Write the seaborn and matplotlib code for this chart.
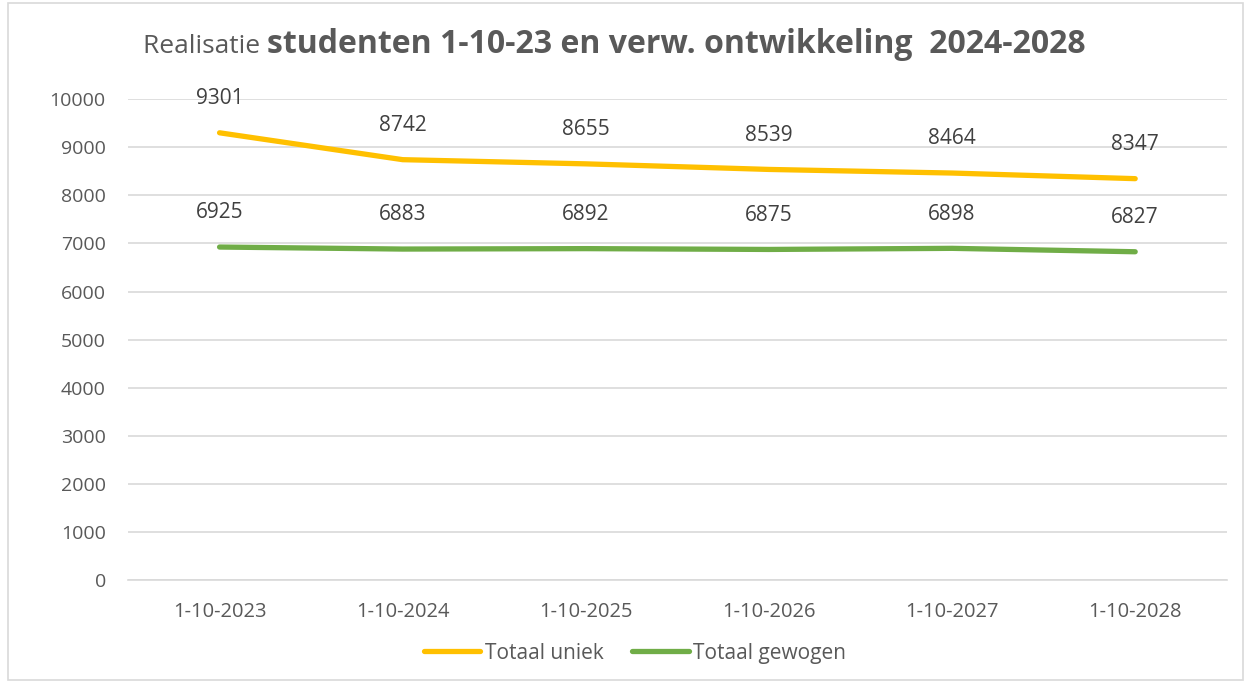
import matplotlib
matplotlib.use("Agg")
import matplotlib.pyplot as plt
import seaborn as sns
import pandas as pd
import numpy as np
from matplotlib.patches import Rectangle
from matplotlib.lines import Line2D

categories = ["1-10-2023", "1-10-2024", "1-10-2025", "1-10-2026", "1-10-2027", "1-10-2028"]
totaal_uniek = [9301, 8742, 8655, 8539, 8464, 8347]
totaal_gewogen = [6925, 6883, 6892, 6875, 6898, 6827]
series_names = ["Totaal uniek", "Totaal gewogen"]
colors = ["#FFC000", "#70AD47"]
yticks = [0, 1000, 2000, 3000, 4000, 5000, 6000, 7000, 8000, 9000, 10000]

sns.set_theme(style="white")
plt.rcParams['font.family'] = ['Open Sans', 'DejaVu Sans']
txt = "#595959"

df = pd.DataFrame({
    "x": list(range(len(categories))) * 2,
    "value": totaal_uniek + totaal_gewogen,
    "series": [series_names[0]] * len(categories) + [series_names[1]] * len(categories),
})

fig = plt.figure(figsize=(12.5, 6.84), dpi=100)
fig.patches.append(Rectangle((0.006, 0.006), 0.988, 0.99, transform=fig.transFigure,
                             fill=False, edgecolor="#d9d9d9", linewidth=1.2))
ax = fig.add_axes([0.1024, 0.152, 0.879, 0.703])

sns.lineplot(data=df, x="x", y="value", hue="series", palette=colors, linewidth=3.8,
             ax=ax, legend=False, solid_capstyle="round")

for vals in (totaal_uniek, totaal_gewogen):
    for i, v in enumerate(vals):
        ax.annotate(str(v), (i, v), xytext=(0, 17), textcoords="offset points",
                    ha="center", va="bottom", fontsize=15, color="#404040")

ax.set_xlim(-0.5, len(categories) - 0.5)
ax.set_ylim(0, 10000)
ax.set_yticks(yticks)
ax.set_yticklabels([str(t) for t in yticks], fontsize=14, color=txt)
ax.set_xticks(range(len(categories)))
ax.set_xticklabels(categories, fontsize=14.5, color=txt)
ax.set_xticks(np.arange(-0.5, len(categories), 1.0), minor=True)
ax.tick_params(axis="x", which="major", length=0, pad=16)
ax.tick_params(axis="x", which="minor", length=7, color="#d9d9d9", width=1.2)
ax.tick_params(axis="y", length=0, pad=16)
ax.grid(axis="y", color="#d9d9d9", linewidth=1.2)
ax.set_axisbelow(True)
for s in ["top", "right", "left"]:
    ax.spines[s].set_visible(False)
ax.spines["bottom"].set_color("#d9d9d9")
ax.spines["bottom"].set_linewidth(1.2)
ax.set_xlabel("")
ax.set_ylabel("")

# Title: two parts
t1 = fig.text(0.1145, 0.922, "Realisatie ", fontsize=19, color=txt, va="baseline", ha="left")
fig.canvas.draw()
bb = t1.get_window_extent()
x2 = bb.x1 / fig.bbox.width
fig.text(x2, 0.922, "studenten 1-10-23 en verw. ontwikkeling  2024-2028", fontsize=23,
         fontweight="bold", color=txt, va="baseline", ha="left")

handles = [Line2D([0], [0], color=c, lw=3.8, solid_capstyle="round") for c in colors]
fig.legend(handles, series_names, loc="center", bbox_to_anchor=(0.508, 0.045), ncol=2,
           frameon=False, fontsize=15, labelcolor=txt, handlelength=2.7, handletextpad=0.2,
           columnspacing=1.4)

fig.savefig("out.png", dpi=100)
